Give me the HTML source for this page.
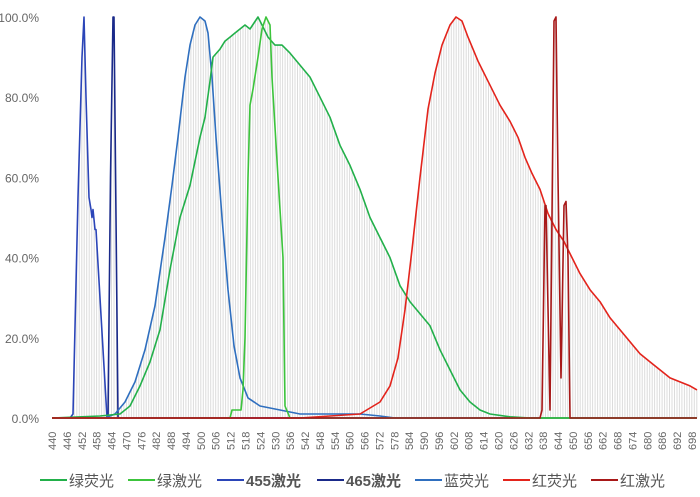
<!DOCTYPE html>
<html><head><meta charset="utf-8"><style>
body{margin:0;background:#fff;width:700px;height:497px;overflow:hidden;font-family:"Liberation Sans","Noto Sans CJK SC",sans-serif}
</style></head><body>
<svg id="s" width="700" height="497" xmlns="http://www.w3.org/2000/svg" style="position:absolute;left:0;top:0"></svg>
<script>
const X0=52,X1=692,Y0=418,Y100=17;
const yp=p=>Y0-(Y0-Y100)*p/100;
const series=[
 {c:'#1a2a8a',w:1.6,p:[[52,0],[108,0],[110.5,60],[113,100],[114,100],[116,50],[118,0],[697,0]]},
 {c:'#2b45b8',w:1.6,p:[[52,0],[70,0],[73,1],[78,55],[82,90],[84,100],[86,80],[89,55],[91,52],[92,50],[93,52],[95,47],[96,47],[107,0],[697,0]]},
 {c:'#2f6fbf',w:1.6,p:[[52,0],[105,0],[115,1],[125,4],[135,9],[145,17],[155,28],[165,45],[172,58],[178,70],[185,85],[190,93],[195,98],[200,100],[205,99],[208,96],[212,85],[216,70],[222,50],[228,32],[234,18],[240,10],[248,5],[260,3],[280,2],[300,1],[340,1],[360,1],[380,0.5],[395,0],[697,0]]},
 {c:'#22b04a',w:1.6,p:[[52,0],[100,0.5],[120,1],[130,3],[140,8],[150,14],[160,22],[170,37],[180,50],[190,58],[200,70],[205,75],[210,84],[213,90],[220,92],[225,94],[230,95],[235,96],[240,97],[245,98],[250,97],[258,100],[262,98],[268,95],[275,93],[282,93],[290,91],[300,88],[310,85],[320,80],[330,75],[340,68],[350,63],[360,57],[370,50],[380,45],[390,40],[400,33],[410,29],[420,26],[430,23],[440,17],[450,12],[460,7],[470,4],[480,2],[490,1],[510,0.3],[530,0],[697,0]]},
 {c:'#3cc43c',w:1.6,p:[[52,0],[230,0],[232,2],[241,2],[243,7],[245,20],[248,60],[250,78],[253,82],[258,90],[262,97],[266,100],[270,98],[272,85],[278,60],[283,40],[285,3],[290,0],[697,0]]},
 {c:'#e3241c',w:1.6,p:[[52,0],[300,0],[330,0.5],[360,1],[380,4],[390,8],[398,15],[405,27],[412,42],[420,60],[428,77],[435,86],[442,93],[450,98],[456,100],[462,99],[468,95],[478,89],[490,83],[500,78],[510,74],[518,70],[525,65],[532,61],[540,57],[548,51],[556,47],[564,44],[572,40],[580,36],[590,32],[600,29],[610,25],[620,22],[630,19],[640,16],[650,14],[660,12],[670,10],[680,9],[690,8],[697,7]]},
 {c:'#a81818',w:1.6,p:[[52,0],[540,0],[542,2],[545,53],[546,53],[550,2],[554,99],[556,100],[558,60],[561,10],[564,53],[566,54],[568,40],[570,0],[697,0]]}
];
function val(p,x){for(let i=1;i<p.length;i++){if(x<=p[i][0]){const a=p[i-1],b=p[i];return a[1]+(b[1]-a[1])*(x-a[0])/(b[0]-a[0]||1);}}return p[p.length-1][1];}
let h='';
// grid-like gray fill lines
for(let x=X0;x<=697;x+=2.48){let m=0;for(const s of series)m=Math.max(m,val(s.p,x));if(m>0.5)h+=`<line x1="${x.toFixed(1)}" y1="${Y0}" x2="${x.toFixed(1)}" y2="${yp(m).toFixed(1)}" stroke="#dcdcdc" stroke-width="1"/>`;}
// y labels
[0,20,40,60,80,100].forEach(v=>{h+=`<text x="39" y="${yp(v)+5}" font-size="12" fill="#666" text-anchor="end">${v.toFixed(1)}%</text>`;});
h+=`<line x1="${X0}" y1="${Y0}" x2="697" y2="${Y0}" stroke="#ccc"/>`;
// x labels
for(let n=440;n<=698;n+=6){const x=X0+(n-440)*(X1-X0)/258;h+=`<text transform="translate(${(x+4).toFixed(1)},450) rotate(-90)" font-size="11" fill="#666">${n}</text>`;}
for(const s of series){h+=`<polyline fill="none" stroke="${s.c}" stroke-width="${s.w}" stroke-linejoin="round" points="${s.p.map(q=>q[0]+','+yp(q[1]).toFixed(1)).join(' ')}"/>`;}
// legend
const lg=[['绿荧光','#22b04a',40],['绿激光','#3cc43c',128],['455激光','#2b45b8',217],['465激光','#1a2a8a',317],['蓝荧光','#2f6fbf',415],['红荧光','#e3241c',503],['红激光','#a81818',591]];
for(const l of lg){h+=`<line x1="${l[2]}" y1="480" x2="${l[2]+27}" y2="480" stroke="${l[1]}" stroke-width="2"/><text x="${l[2]+29}" y="486" font-size="15" fill="#555" font-weight="${l[0].startsWith('4')?'bold':'normal'}">${l[0]}</text>`;}
document.getElementById('s').innerHTML=h;
</script>
</body></html>
